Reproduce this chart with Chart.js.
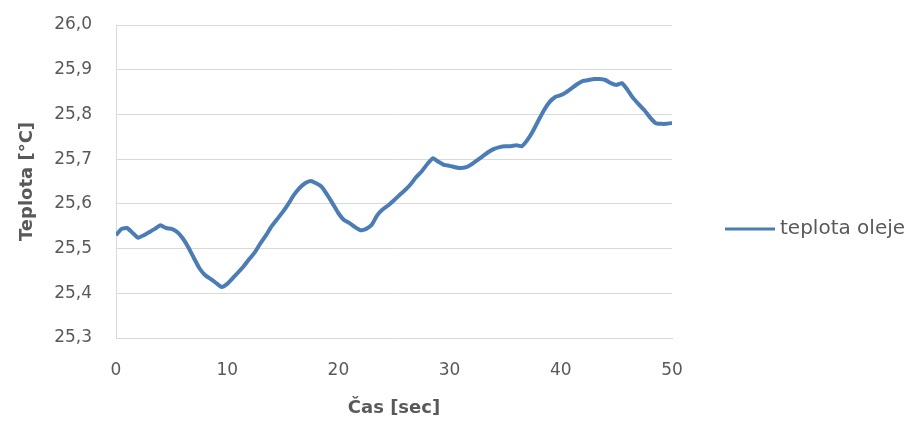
<!DOCTYPE html>
<html>
<head>
<meta charset="utf-8">
<script src="https://cdn.jsdelivr.net/npm/chart.js@4"></script>
<style>
    html, body { margin: 0; padding: 0; background: #fff; }
    #wrap { width: 912px; height: 425px; }
</style>
</head>
<body>
<div id="wrap"><canvas id="chart"></canvas></div>
<script>
// time in seconds
const times = [
    0, 0.5, 1, 1.5, 2, 2.5, 3, 3.5, 4, 4.5, 5, 5.5, 6, 6.5, 7, 7.5, 8, 8.5, 9, 9.5,
    10, 10.5, 11, 11.5, 12, 12.5, 13, 13.5, 14, 14.5, 15, 15.5, 16, 16.5, 17, 17.5, 18, 18.5, 19, 19.5,
    20, 20.5, 21, 21.5, 22, 22.5, 23, 23.5, 24, 24.5, 25, 25.5, 26, 26.5, 27, 27.5, 28, 28.5, 29, 29.5,
    30, 30.5, 31, 31.5, 32, 32.5, 33, 33.5, 34, 34.5, 35, 35.5, 36, 36.5, 37, 37.5, 38, 38.5, 39, 39.5,
    40, 40.5, 41, 41.5, 42, 42.5, 43, 43.5, 44, 44.5, 45, 45.5, 46, 46.5, 47, 47.5, 48, 48.5, 49, 49.5, 50
];
// oil temperature [°C]
const oilTemp = [
    25.530, 25.544, 25.546, 25.535, 25.524, 25.530, 25.537, 25.544, 25.552, 25.546, 25.544, 25.537, 25.523, 25.503, 25.479, 25.456, 25.441, 25.432, 25.423, 25.414,
    25.421, 25.434, 25.447, 25.461, 25.477, 25.492, 25.512, 25.530, 25.550, 25.566, 25.582, 25.600, 25.620, 25.635, 25.646, 25.651, 25.646, 25.638, 25.620, 25.600,
    25.579, 25.564, 25.557, 25.548, 25.541, 25.544, 25.553, 25.575, 25.588, 25.597, 25.608, 25.620, 25.631, 25.644, 25.660, 25.673, 25.689, 25.702, 25.694, 25.687,
    25.685, 25.682, 25.680, 25.682, 25.689, 25.698, 25.707, 25.716, 25.723, 25.727, 25.729, 25.729, 25.731, 25.729, 25.743, 25.763, 25.787, 25.810, 25.828, 25.839,
    25.843, 25.850, 25.859, 25.868, 25.875, 25.877, 25.879, 25.879, 25.877, 25.870, 25.866, 25.870, 25.855, 25.837, 25.823, 25.810, 25.794, 25.781, 25.779, 25.779, 25.781
];
const seriesLabel = 'teplota oleje';
const xTitle = 'Čas [sec]';
const yTitle = 'Teplota [°C]';

const lineColor = '#4a7cb8';
const textColor = '#595959';
const gridColor = '#d9d9d9';

// simple legend on the right, excel style
const sideLegend = {
    id: 'sideLegend',
    afterDraw(chart) {
        const ctx = chart.ctx;
        const area = chart.chartArea;
        const x = area.right + 53;
        const y = 229;
        ctx.save();
        ctx.strokeStyle = lineColor;
        ctx.lineWidth = 3;
        ctx.beginPath();
        ctx.moveTo(x, y);
        ctx.lineTo(x + 50, y);
        ctx.stroke();
        ctx.fillStyle = textColor;
        ctx.font = '20px "DejaVu Sans"';
        ctx.textBaseline = 'middle';
        ctx.fillText(chart.data.datasets[0].label, x + 55, y);
        ctx.restore();
    }
};

new Chart('chart', {
    type: 'scatter',
    data: {
        datasets: [{
            label: seriesLabel,
            data: times.map((t, i) => ({ x: t, y: oilTemp[i] })),
            showLine: true,
            borderColor: lineColor,
            backgroundColor: lineColor,
            borderWidth: 4,
            pointRadius: 0,
            tension: 0.15
        }]
    },
    options: {
        responsive: true,
        maintainAspectRatio: false,
        animation: false,
        layout: { padding: { top: 25, right: 240, bottom: 0, left: 0 } },
        plugins: {
            legend: { display: false },
            tooltip: { enabled: false }
        },
        scales: {
            x: {
                type: 'linear',
                min: 0,
                max: 50,
                ticks: {
                    stepSize: 10,
                    color: textColor,
                    font: { family: 'DejaVu Sans', size: 17 },
                    padding: 22
                },
                grid: { display: false, drawTicks: false },
                border: { display: true, color: gridColor, width: 1 },
                title: {
                    display: true,
                    text: xTitle,
                    color: textColor,
                    font: { family: 'DejaVu Sans', size: 18, weight: 'bold' },
                    padding: { top: 0, bottom: 6 }
                },
                afterFit: s => { s.height = 87; }
            },
            y: {
                min: 25.3,
                max: 26.0,
                ticks: {
                    stepSize: 0.1,
                    color: textColor,
                    font: { family: 'DejaVu Sans', size: 17 },
                    padding: 24,
                    callback: v => v.toFixed(1).replace('.', ',')
                },
                grid: { color: gridColor, drawTicks: false },
                border: { display: true, color: gridColor, width: 1 },
                title: {
                    display: true,
                    text: yTitle,
                    color: textColor,
                    font: { family: 'DejaVu Sans', size: 18, weight: 'bold' },
                    padding: { top: 17, bottom: 0 }
                },
                afterFit: s => {
                    s.width = 116;
                    s.paddingTop = 0;      // ticks.padding would otherwise push the top down
                    s.paddingBottom = 0;
                }
            }
        }
    },
    plugins: [sideLegend]
});
</script>
</body>
</html>
